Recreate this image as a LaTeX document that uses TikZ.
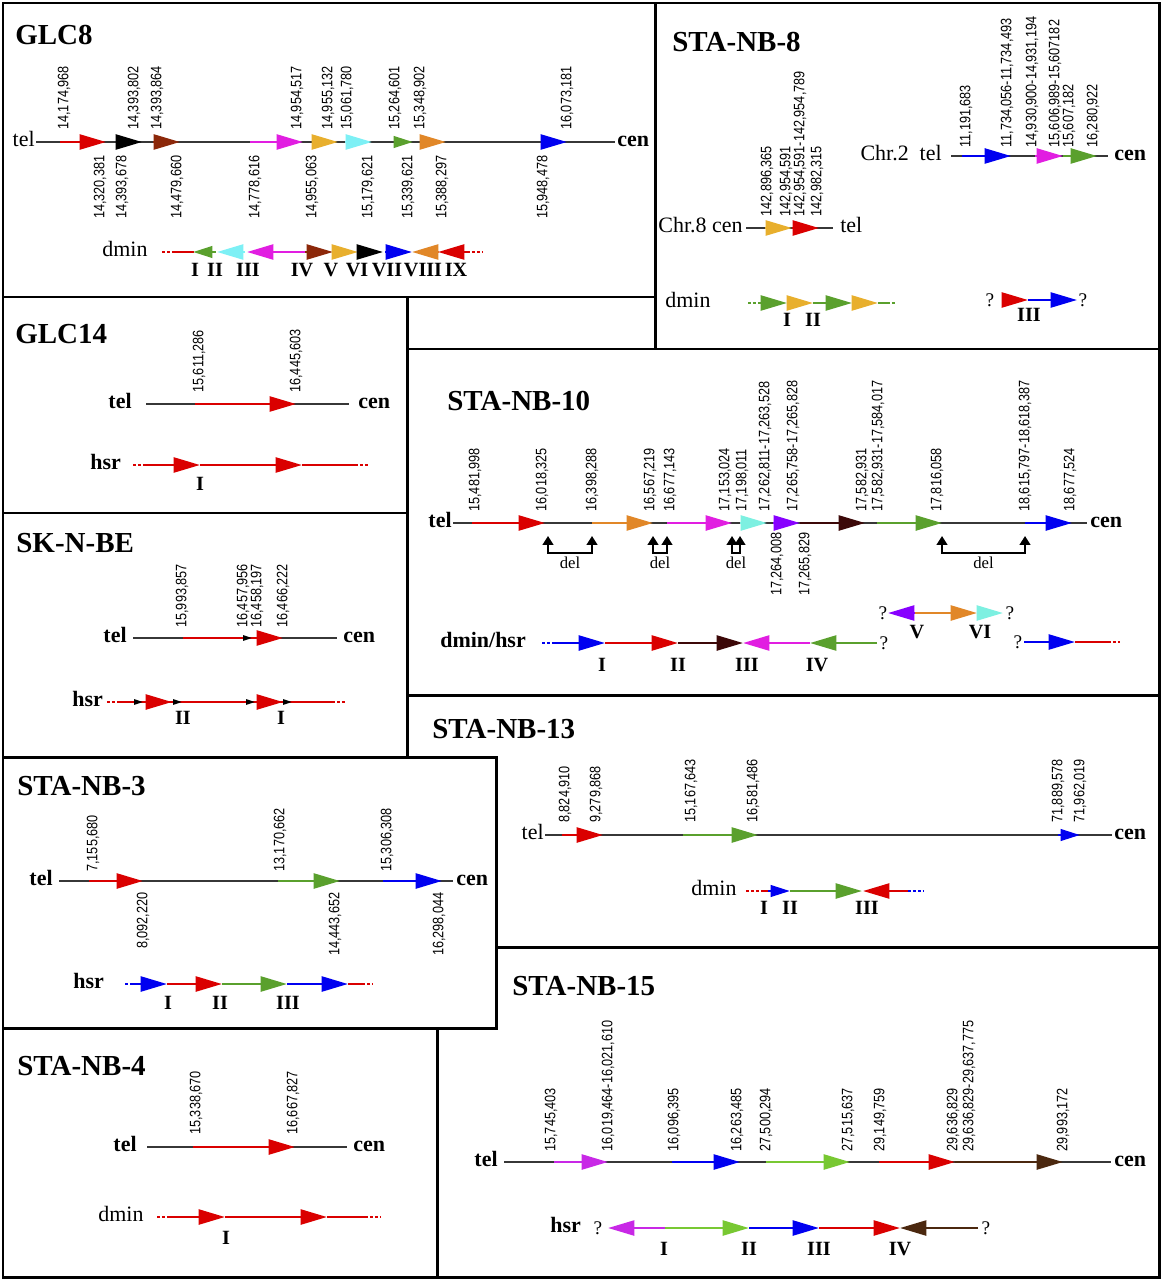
\documentclass[tikz,border=0pt]{standalone}
\usepackage{fontspec}
\setmainfont{Liberation Serif}
\newfontfamily\numfam[FakeStretch=0.84]{Liberation Sans}
\usetikzlibrary{arrows.meta}
\definecolor{cRed}{RGB}{218,0,0}
\definecolor{cDk}{RGB}{55,55,55}
\definecolor{cBrn}{RGB}{140,40,10}
\definecolor{cMag}{RGB}{225,30,225}
\definecolor{cGold}{RGB}{232,175,45}
\definecolor{cCyan}{RGB}{125,240,245}
\definecolor{cGrn}{RGB}{90,160,45}
\definecolor{cOrg}{RGB}{225,135,40}
\definecolor{cBlu}{RGB}{0,0,240}
\definecolor{cPur}{RGB}{135,0,255}
\definecolor{cMar}{RGB}{60,8,8}
\definecolor{cAqua}{RGB}{125,240,225}
\definecolor{cLgrn}{RGB}{120,200,50}
\definecolor{cDbr}{RGB}{75,40,15}
\definecolor{cVio}{RGB}{200,40,230}
\newcommand{\numf}{\numfam\fontsize{8.6}{10}\selectfont}
\newcommand{\labf}{\fontsize{12.5}{14}\selectfont}
\newcommand{\ttlf}{\bfseries\fontsize{16.5}{18}\selectfont}
\newcommand{\romf}{\bfseries\fontsize{11.5}{12}\selectfont}
\tikzset{
  panel/.style={line width=1.7pt},
  bb/.style={line width=1.5pt, cDk},
  sg/.style={line width=1.5pt, color=#1, -{Triangle[length=15pt,width=8.5pt]}},
  sgs/.style={line width=1.5pt, color=#1, -{Triangle[length=11pt,width=6.5pt]}},
  sgt/.style={line width=1pt, color=#1, -{Triangle[length=5pt,width=3pt]}},
  ln/.style={line width=1.5pt, color=#1},
  dt/.style={line width=1.5pt, color=#1, dash pattern=on 1.6pt off 1.2pt},
  delb/.style={line width=1.1pt, {Triangle[length=5pt,width=6pt]}-{Triangle[length=5pt,width=6pt]}},
  numup/.style={font=\numf, rotate=90, anchor=west, inner sep=0pt},
  numdn/.style={font=\numf, rotate=90, anchor=east, inner sep=0pt},
  lab/.style={font=\labf, inner sep=0pt},
  labb/.style={font=\labf\bfseries, inner sep=0pt},
  ttl/.style={font=\ttlf, anchor=base west, inner sep=0pt},
  rom/.style={font=\romf, inner sep=0pt},
  q/.style={font=\fontsize{11}{12}\selectfont, inner sep=0pt},
  delt/.style={font=\fontsize{9.5}{11}\selectfont, inner sep=0pt}
}
\begin{document}
\begin{tikzpicture}[x=0.02cm,y=-0.02cm]
\useasboundingbox (0,0) rectangle (1162,1280);
\draw[panel] (3,3) rectangle (1159,1277);
\foreach \a/\b/\c/\d in {3/3/655/297, 655/3/1159/349, 3/297/407/513, 3/513/407/757, 407/349/1159/695, 3/757/496/1028, 3/1028/437/1277}
  \draw[panel] (\a,\b) rectangle (\c,\d);
\draw[panel] (496,947) -- (1159,947);

\node[ttl] (t1) at (15,45) {GLC8};
\draw[bb] (36,142) -- (615,142);
\foreach \a/\b/\c in {60/106/cRed, 117/142/black, 153/180/cBrn, 250/303/cMag, 312/338/cGold, 345/372/cCyan, 420/446/cOrg, 543/567/cBlu}
  \draw[sg=\c] (\a,142) -- (\b,142);
\draw[sgs=cGrn] (395,142) -- (413,142);
\node[lab,anchor=mid east] (g8tel) at (35,142) {tel};
\node[labb,anchor=mid west] (g8cen) at (617,142) {cen};
\foreach \x/\t in {64/{14,174,968}, 134/{14,393,802}, 157/{14,393,864}, 297/{14,954,517}, 328/{14,955,132}, 347/{15,061,780}, 395/{15,264,601}, 420/{15,348,902}, 567/{16,073,181}}
  \node[numup] (g8u\x) at (\x,130) {\t};
\foreach \x/\t in {100/{14,320,381}, 122/{14,393,678}, 177/{14,479,660}, 255/{14,778,616}, 312/{14,955,063}, 368/{15,179,621}, 408/{15,339,621}, 442/{15,388,297}, 543/{15,948,478}}
  \node[numdn] (g8d\x) at (\x,155) {\t};
\node[lab,anchor=mid west] (g8dm) at (102,252) {dmin};
\draw[dt=cRed] (162,252) -- (175,252);
\draw[ln=cRed] (175,252) -- (194,252);
\foreach \a/\b/\c in {245/217/cCyan, 305/247/cMag, 305/333/cBrn, 333/358/cGold, 358/383/black, 385/412/cBlu, 438/412/cOrg, 467/438/cRed}
  \draw[sg=\c] (\a,252) -- (\b,252);
\draw[sgs=cGrn] (216,252) -- (193,252);
\draw[dt=cRed] (467,252) -- (483,252);
\foreach \x/\t in {195/I, 215/II, 248/III, 302/IV, 331/V, 357/VI, 387/VII, 423/VIII, 456/IX}
  \node[rom] (g8r\x) at (\x,270) {\t};

\node[ttl] (t2) at (672,52) {STA-NB-8};
\draw[bb] (951,156) -- (1108,156);
\foreach \a/\b/\c in {962/1011/cBlu, 1035/1063/cMag, 1063/1097/cGrn}
  \draw[sg=\c] (\a,156) -- (\b,156);
\node[lab,anchor=mid east] (s8tel) at (942,156) {Chr.2\enspace tel};
\node[labb,anchor=mid west] (s8cen) at (1114,156) {cen};
\foreach \x/\t in {966/{11,191,683}, 1007/{11,734,056-11,734,493}, 1032/{14,930,900-14,931,194}, 1055/{15,606,989-15,607182}, 1069/{15,607,182}, 1093/{16,280,922}}
  \node[numup] (s8u\x) at (\x,148) {\t};
\draw[bb] (746,228) -- (833,228);
\draw[sg=cGold] (765,228) -- (792,228);
\draw[sg=cRed] (792,228) -- (819,228);
\node[lab,anchor=mid east] (s8cenb) at (743,228) {Chr.8 cen};
\node[lab,anchor=mid west] (s8telb) at (840,228) {tel};
\foreach \x/\t in {767/{142,896,365}, 786/{142,954,591}, 800/{142,954,591-142,954,789}, 817/{142,982,315}}
  \node[numup] (s8v\x) at (\x,217) {\t};
\node[lab,anchor=mid west] (s8dm) at (665,303) {dmin};
\draw[dt=cGrn] (748,303) -- (760,303);
\foreach \a/\b/\c in {760/787/cGrn, 787/813/cGold, 813/852/cGrn, 852/878/cGold}
  \draw[sg=\c] (\a,303) -- (\b,303);
\draw[ln=cGrn] (878,303) -- (887,303);
\draw[dt=cGrn] (887,303) -- (895,303);
\node[rom] (s8r1) at (787,320) {I};
\node[rom] (s8r2) at (813,320) {II};
\node[q] (s8qa) at (990,300) {?};
\draw[sg=cRed] (1002,300) -- (1028,300);
\draw[sg=cBlu] (1028,300) -- (1077,300);
\node[q] (s8qb) at (1083,300) {?};
\node[rom] (s8r3) at (1029,315) {III};

\node[ttl] (t3) at (15,343) {GLC14};
\draw[bb] (146,404) -- (349,404);
\draw[sg=cRed] (195,404) -- (296,404);
\node[labb,anchor=mid east] (g14tel) at (132,404) {tel};
\node[labb,anchor=mid west] (g14cen) at (358,404) {cen};
\node[numup] (g14ua) at (199,393) {15,611,286};
\node[numup] (g14ub) at (296,393) {16,445,603};
\node[labb,anchor=mid west] (g14hsr) at (90,465) {hsr};
\draw[dt=cRed] (133,465) -- (146,465);
\draw[sg=cRed] (146,465) -- (200,465);
\draw[sg=cRed] (200,465) -- (302,465);
\draw[ln=cRed] (302,465) -- (355,465);
\draw[dt=cRed] (355,465) -- (368,465);
\node[rom] (g14r1) at (200,484) {I};

\node[ttl] (t4) at (16,552) {SK-N-BE};
\draw[bb] (133,638) -- (337,638);
\draw[ln=cRed] (183,638) -- (250,638);
\draw[sg=cRed] (250,638) -- (283,638);
\draw[sgt=black] (243,638) -- (252,638);
\node[labb,anchor=mid east] (sktel) at (127,638) {tel};
\node[labb,anchor=mid west] (skcen) at (343,638) {cen};
\foreach \x/\t in {182/{15,993,857}, 243/{16,457,956}, 257/{16,458,197}, 283/{16,466,222}}
  \node[numup] (sku\x) at (\x,628) {\t};
\node[labb,anchor=mid west] (skhsr) at (72,702) {hsr};
\draw[dt=cRed] (107,702) -- (117,702);
\draw[ln=cRed] (117,702) -- (332,702);
\draw[dt=cRed] (332,702) -- (345,702);
\draw[sg=cRed] (143,702) -- (172,702);
\draw[sg=cRed] (255,702) -- (283,702);
\foreach \b in {143,182,255,292}
  \draw[sgt=black] (\b-9,702) -- (\b,702);
\node[rom] (skr2) at (183,718) {II};
\node[rom] (skr1) at (281,718) {I};

\node[ttl] (t5) at (447,410) {STA-NB-10};
\draw[bb] (453,523) -- (1087,523);
\foreach \a/\b/\c in {472/545/cRed, 592/653/cOrg, 667/732/cMag, 740/767/cAqua, 773/800/cPur, 800/865/cMar, 877/942/cGrn, 1025/1072/cBlu}
  \draw[sg=\c] (\a,523) -- (\b,523);
\node[labb,anchor=mid east] (s10tel) at (452,523) {tel};
\node[labb,anchor=mid west] (s10cen) at (1090,523) {cen};
\foreach \x/\t in {475/{15,481,998}, 542/{16,018,325}, 592/{16,398,288}, 650/{16,567,219}, 670/{16,677,143}, 725/{17,153,024}, 742/{17,198,011}, 765/{17,262,811-17,263,528}, 793/{17,265,758-17,265,828}, 862/{17,582,931}, 878/{17,582,931-17,584,017}, 937/{17,816,058}, 1025/{18,615,797-18,618,387}, 1070/{18,677,524}}
  \node[numup] (s10u\x) at (\x,512) {\t};
\node[numdn] (s10da) at (777,532) {17,264,008};
\node[numdn] (s10db) at (805,532) {17,265,829};
\foreach \a/\b in {548/592, 653/667, 732/740, 942/1025} {
  \draw[delb] (\a,536) -- (\a,553) -- (\b,553) -- (\b,536);
  \node[delt] (del\a) at ({(\a+\b)/2},563) {del};
}
\node[labb,anchor=mid west] (s10dm) at (440,643) {dmin/hsr};
\draw[dt=cBlu] (542,643) -- (552,643);
\foreach \a/\b/\c in {552/605/cBlu, 605/678/cRed, 678/743/cMar, 810/743/cMag, 877/810/cGrn}
  \draw[sg=\c] (\a,643) -- (\b,643);
\node[q] (s10qa) at (884,643) {?};
\foreach \x/\t in {602/I, 678/II, 747/III, 817/IV}
  \node[rom] (s10r\x) at (\x,665) {\t};
\node[q] (s10qb) at (883,613) {?};
\draw[sg=cPur] (915,613) -- (888,613);
\draw[sg=cOrg] (915,613) -- (977,613);
\draw[sg=cAqua] (977,613) -- (1003,613);
\node[q] (s10qc) at (1010,613) {?};
\node[rom] (s10rv) at (917,632) {V};
\node[rom] (s10rvi) at (980,632) {VI};
\node[q] (s10qd) at (1018,642) {?};
\draw[sg=cBlu] (1024,642) -- (1075,642);
\draw[ln=cRed] (1075,642) -- (1108,642);
\draw[dt=cRed] (1108,642) -- (1120,642);

\node[ttl] (t6) at (432,738) {STA-NB-13};
\draw[bb] (545,835) -- (1112,835);
\draw[sg=cRed] (562,835) -- (603,835);
\draw[sg=cGrn] (683,835) -- (758,835);
\draw[sgs=cBlu] (1058,835) -- (1080,835);
\node[lab,anchor=mid east] (s13tel) at (544,835) {tel};
\node[labb,anchor=mid west] (s13cen) at (1114,835) {cen};
\foreach \x/\t in {565/{8,824,910}, 596/{9,279,868}, 691/{15,167,643}, 753/{16,581,486}, 1058/{71,889,578}, 1080/{71,962,019}}
  \node[numup] (s13u\x) at (\x,823) {\t};
\node[lab,anchor=mid west] (s13dm) at (691,891) {dmin};
\draw[dt=cRed] (746,891) -- (761,891);
\draw[ln=cRed] (761,891) -- (769,891);
\draw[sgs=cBlu] (768,891) -- (790,891);
\draw[sg=cGrn] (790,891) -- (862,891);
\draw[sg=cRed] (908,891) -- (863,891);
\draw[dt=cBlu] (908,891) -- (923,891);
\foreach \x/\t in {764/I, 790/II, 867/III}
  \node[rom] (s13r\x) at (\x,908) {\t};

\node[ttl] (t7) at (17,795) {STA-NB-3};
\draw[bb] (59,881) -- (453,881);
\draw[sg=cRed] (89,881) -- (143,881);
\draw[sg=cGrn] (278,881) -- (340,881);
\draw[sg=cBlu] (383,881) -- (442,881);
\node[labb,anchor=mid east] (s3tel) at (53,881) {tel};
\node[labb,anchor=mid west] (s3cen) at (456,881) {cen};
\foreach \x/\t in {93/{7,155,680}, 280/{13,170,662}, 387/{15,306,308}}
  \node[numup] (s3u\x) at (\x,872) {\t};
\foreach \x/\t in {143/{8,092,220}, 335/{14,443,652}, 439/{16,298,044}}
  \node[numdn] (s3d\x) at (\x,892) {\t};
\node[labb,anchor=mid west] (s3hsr) at (73,984) {hsr};
\draw[dt=cBlu] (125,984) -- (133,984);
\foreach \a/\b/\c in {133/167/cBlu, 167/222/cRed, 222/287/cGrn, 287/348/cBlu}
  \draw[sg=\c] (\a,984) -- (\b,984);
\draw[ln=cRed] (348,984) -- (362,984);
\draw[dt=cRed] (362,984) -- (373,984);
\foreach \x/\t in {168/I, 220/II, 288/III}
  \node[rom] (s3r\x) at (\x,1003) {\t};

\node[ttl] (t8) at (17,1075) {STA-NB-4};
\draw[bb] (147,1147) -- (347,1147);
\draw[sg=cRed] (193,1147) -- (295,1147);
\node[labb,anchor=mid east] (s4tel) at (137,1147) {tel};
\node[labb,anchor=mid west] (s4cen) at (353,1147) {cen};
\node[numup] (s4ua) at (196,1135) {15,338,670};
\node[numup] (s4ub) at (293,1135) {16,667,827};
\node[lab,anchor=mid west] (s4dm) at (98,1217) {dmin};
\draw[dt=cRed] (157,1217) -- (170,1217);
\draw[sg=cRed] (170,1217) -- (225,1217);
\draw[sg=cRed] (225,1217) -- (327,1217);
\draw[ln=cRed] (327,1217) -- (365,1217);
\draw[dt=cRed] (365,1217) -- (380,1217);
\node[rom] (s4r1) at (226,1238) {I};

\node[ttl] (t9) at (512,995) {STA-NB-15};
\draw[bb] (504,1162) -- (1111,1162);
\foreach \a/\b/\c in {554/608/cVio, 672/740/cBlu, 766/850/cLgrn, 879/955/cRed, 955/1063/cDbr}
  \draw[sg=\c] (\a,1162) -- (\b,1162);
\node[labb,anchor=mid east] (s15tel) at (498,1162) {tel};
\node[labb,anchor=mid west] (s15cen) at (1114,1162) {cen};
\foreach \x/\t in {551/{15,745,403}, 608/{16,019,464-16,021,610}, 674/{16,096,395}, 737/{16,263,485}, 766/{27,500,294}, 848/{27,515,637}, 880/{29,149,759}, 953/{29,636,829}, 969/{29,636,829-29,637,775}, 1063/{29,993,172}}
  \node[numup] (s15u\x) at (\x,1152) {\t};
\node[labb,anchor=mid west] (s15hsr) at (550,1228) {hsr};
\node[q] (s15qa) at (598,1228) {?};
\foreach \a/\b/\c in {665/608/cVio, 665/749/cLgrn, 749/819/cBlu, 819/900/cRed, 978/900/cDbr}
  \draw[sg=\c] (\a,1228) -- (\b,1228);
\node[q] (s15qb) at (986,1228) {?};
\foreach \x/\t in {664/I, 749/II, 819/III, 900/IV}
  \node[rom] (s15r\x) at (\x,1249) {\t};
\end{tikzpicture}
\end{document}
